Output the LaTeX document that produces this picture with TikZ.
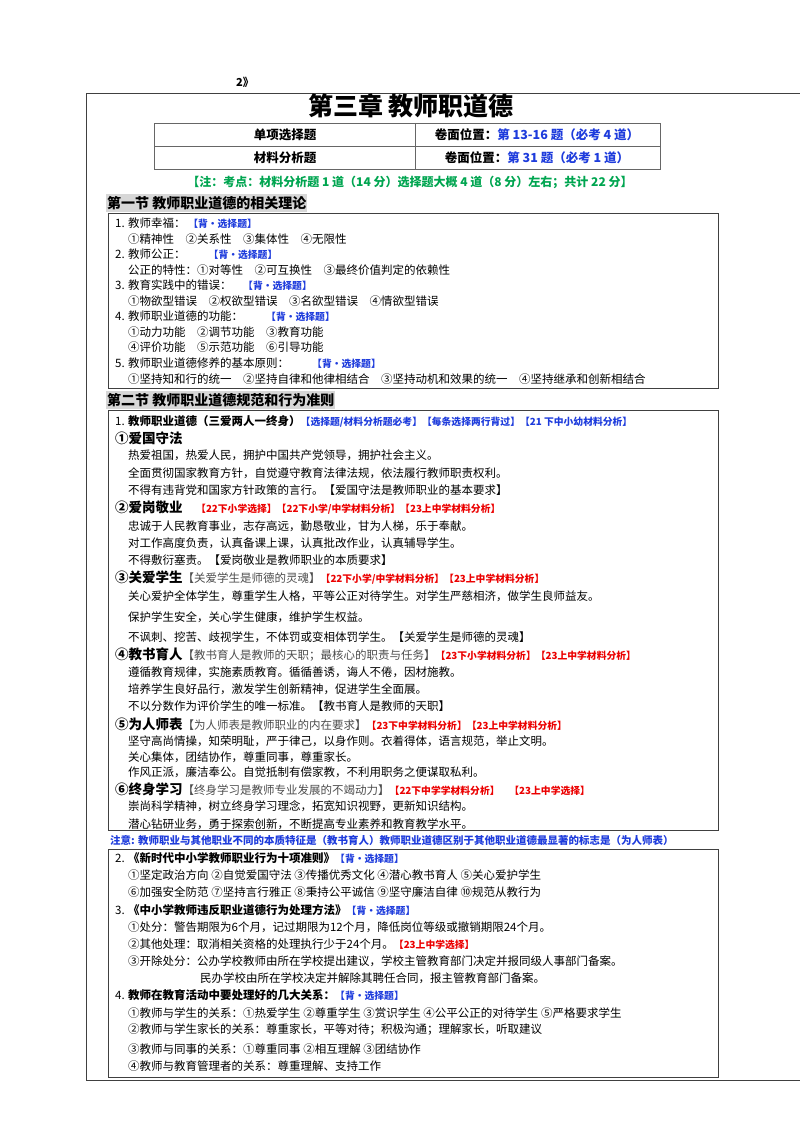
\documentclass[tikz,border=0pt]{standalone}
\usepackage{fontspec}
\setmainfont{Noto Sans CJK SC}
\usepackage{xcolor}
\usetikzlibrary{positioning}
\definecolor{tagblue}{RGB}{30,60,220}
\definecolor{tagred}{RGB}{235,0,0}
\definecolor{notegreen}{RGB}{0,165,80}
\definecolor{secgray}{RGB}{215,215,215}
\newcommand{\btag}[1]{{\fontsize{9.8}{10}\selectfont\bfseries\color{tagblue}#1}}
\newcommand{\rtag}[1]{{\fontsize{9.8}{10}\selectfont\bfseries\color{tagred}#1}}
\newcommand{\gtag}[1]{{\mdseries\fontsize{11.5}{12}\selectfont\color{black!70}#1}}

\begin{document}
\begin{tikzpicture}[x=1pt,y=-1pt,
    every node/.style={inner sep=0pt, anchor=west},
    ln/.style={font=\fontsize{11.5}{12}\selectfont},
    hd/.style={font=\fontsize{13.5}{14}\selectfont\bfseries},
    sec/.style={font=\fontsize{14}{15}\selectfont\bfseries, fill=secgray, inner xsep=1pt, inner ysep=2.5pt},
    tb/.style={anchor=center, font=\fontsize{12.5}{13}\selectfont\bfseries},
    box/.style={draw=black!75, line width=0.8pt},
    cell/.style={draw=black!60, line width=0.8pt}]
  \useasboundingbox (0,0) rectangle (800,1131);

  \node[font=\fontsize{11}{12}\selectfont\bfseries] (pg) at (236,82) {2》};
  % outer frame
  \draw[box] (86,1080) -- (86,93) -- (800,93);
  \draw[box] (86,1080) -- (800,1080);
  \node[font=\fontsize{25}{27}\selectfont\bfseries, anchor=center] (title) at (411,106) {第三章\ 教师职道德};

  % table
  \draw[cell] (154,123) rectangle (660,169);
  \draw[cell] (154,146) -- (660,146) (415,123) -- (415,169);
  \node[tb] (q1) at (285,135) {单项选择题};
  \node[tb] (q2) at (285,158) {材料分析题};
  \node[tb] (p1) at (537,135) {卷面位置：\textcolor{tagblue}{第 13-16 题（必考 4 道）}};
  \node[tb] (p2) at (537,158) {卷面位置：\textcolor{tagblue}{第 31 题（必考 1 道）}};
  \node[anchor=center, font=\fontsize{12}{13}\selectfont\bfseries, text=notegreen] (note) at (410,182) {【注：考点：材料分析题 1 道（14 分）选择题大概 4 道（8 分）左右；共计 22 分】};

  % section one
  \node[sec] (s1) at (106,203) {第一节 教师职业道德的相关理论};
  \draw[box] (108,213) rectangle (718,388);
  \node[ln] (a1) at (115,223) {1. 教师幸福：\ \btag{【背•选择题】}};
  \node[ln] (a2) at (128,239) {①精神性\quad ②关系性\quad ③集体性\quad ④无限性};
  \node[ln] (a3) at (115,254) {2. 教师公正：\qquad\btag{【背•选择题】}};
  \node[ln] (a4) at (128,270) {公正的特性：①对等性\quad ②可互换性\quad ③最终价值判定的依赖性};
  \node[ln] (a5) at (115,285) {3. 教育实践中的错误：\quad\btag{【背•选择题】}};
  \node[ln] (a6) at (128,301) {①物欲型错误\quad ②权欲型错误\quad ③名欲型错误\quad ④情欲型错误};
  \node[ln] (a7) at (115,316) {4. 教师职业道德的功能：\qquad\btag{【背•选择题】}};
  \node[ln] (a8) at (128,332) {①动力功能\quad ②调节功能\quad ③教育功能};
  \node[ln] (a9) at (128,347) {④评价功能\quad ⑤示范功能\quad ⑥引导功能};
  \node[ln] (a10) at (115,363) {5. 教师职业道德修养的基本原则：\qquad\btag{【背•选择题】}};
  \node[ln] (a11) at (128,379) {①坚持知和行的统一\quad ②坚持自律和他律相结合\quad ③坚持动机和效果的统一\quad ④坚持继承和创新相结合};

  % section two
  \node[sec] (s2) at (106,400) {第二节 教师职业道德规范和行为准则};
  \draw[box] (108,410) rectangle (718,830);
  \node[ln] (b0) at (115,421) {1. \textbf{教师职业道德（三爱两人一终身）}\btag{【选择题/材料分析题必考】【每条选择两行背过】【21 下中小幼材料分析】}};
  \node[hd] (h1) at (115,438) {①爱国守法};
  \node[ln] (b1) at (128,455) {热爱祖国，热爱人民，拥护中国共产党领导，拥护社会主义。};
  \node[ln] (b2) at (128,473) {全面贯彻国家教育方针，自觉遵守教育法律法规，依法履行教师职责权利。};
  \node[ln] (b3) at (128,490) {不得有违背党和国家方针政策的言行。【爱国守法是教师职业的基本要求】};
  \node[hd] (h2) at (115,508) {②爱岗敬业\quad\rtag{【22下小学选择】【22下小学/中学材料分析】【23上中学材料分析】}};
  \node[ln] (b4) at (128,526) {忠诚于人民教育事业，志存高远，勤恳敬业，甘为人梯，乐于奉献。};
  \node[ln] (b5) at (128,543) {对工作高度负责，认真备课上课，认真批改作业，认真辅导学生。};
  \node[ln] (b6) at (128,560) {不得敷衍塞责。【爱岗敬业是教师职业的本质要求】};
  \node[hd] (h3) at (115,578) {③关爱学生\gtag{【关爱学生是师德的灵魂】}\rtag{【22下小学/中学材料分析】【23上中学材料分析】}};
  \node[ln] (b7) at (128,596) {关心爱护全体学生，尊重学生人格，平等公正对待学生。对学生严慈相济，做学生良师益友。};
  \node[ln] (b8) at (128,617) {保护学生安全，关心学生健康，维护学生权益。};
  \node[ln] (b9) at (128,637) {不讽刺、挖苦、歧视学生，不体罚或变相体罚学生。【关爱学生是师德的灵魂】};
  \node[hd] (h4) at (115,655) {④教书育人\gtag{【教书育人是教师的天职；最核心的职责与任务】}\rtag{【23下小学材料分析】【23上中学材料分析】}};
  \node[ln] (b10) at (128,672) {遵循教育规律，实施素质教育。循循善诱，诲人不倦，因材施教。};
  \node[ln] (b11) at (128,689) {培养学生良好品行，激发学生创新精神，促进学生全面展。};
  \node[ln] (b12) at (128,706) {不以分数作为评价学生的唯一标准。【教书育人是教师的天职】};
  \node[hd] (h5) at (115,724) {⑤为人师表\gtag{【为人师表是教师职业的内在要求】}\rtag{【23下中学材料分析】【23上中学材料分析】}};
  \node[ln] (b13) at (128,741) {坚守高尚情操，知荣明耻，严于律己，以身作则。衣着得体，语言规范，举止文明。};
  \node[ln] (b14) at (128,757) {关心集体，团结协作，尊重同事，尊重家长。};
  \node[ln] (b15) at (128,772) {作风正派，廉洁奉公。自觉抵制有偿家教，不利用职务之便谋取私利。};
  \node[hd] (h6) at (115,789) {⑥终身学习\gtag{【终身学习是教师专业发展的不竭动力】}\rtag{【22下中学学材料分析】\quad【23上中学选择】}};
  \node[ln] (b16) at (128,806) {崇尚科学精神，树立终身学习理念，拓宽知识视野，更新知识结构。};
  \node[ln] (b17) at (128,824) {潜心钻研业务，勇于探索创新，不断提高专业素养和教育教学水平。};
  \node[font=\fontsize{10.5}{11}\selectfont\bfseries, text=tagblue] (zy) at (110,840) {注意: 教师职业与其他职业不同的本质特征是（教书育人）教师职业道德区别于其他职业道德最显著的标志是（为人师表）};

  % box three
  \draw[box] (108,849) rectangle (718,1077);
  \node[ln] (c1) at (115,858) {2. \textbf{《新时代中小学教师职业行为十项准则》}\btag{【背•选择题】}};
  \node[ln] (c2) at (128,875) {①坚定政治方向 ②自觉爱国守法 ③传播优秀文化 ④潜心教书育人 ⑤关心爱护学生};
  \node[ln] (c3) at (128,892) {⑥加强安全防范 ⑦坚持言行雅正 ⑧秉持公平诚信 ⑨坚守廉洁自律 ⑩规范从教行为};
  \node[ln] (c4) at (115,910) {3. \textbf{《中小学教师违反职业道德行为处理方法》}\btag{【背•选择题】}};
  \node[ln] (c5) at (128,927) {①处分：警告期限为6个月，记过期限为12个月，降低岗位等级或撤销期限24个月。};
  \node[ln] (c6) at (128,944) {②其他处理：取消相关资格的处理执行少于24个月。\rtag{【23上中学选择】}};
  \node[ln] (c7) at (128,961) {③开除处分：公办学校教师由所在学校提出建议，学校主管教育部门决定并报同级人事部门备案。};
  \node[ln] (c8) at (200,978) {民办学校由所在学校决定并解除其聘任合同，报主管教育部门备案。};
  \node[ln] (c9) at (115,995) {4. \textbf{教师在教育活动中要处理好的几大关系：}\btag{【背•选择题】}};
  \node[ln] (c10) at (128,1013) {①教师与学生的关系：①热爱学生 ②尊重学生 ③赏识学生 ④公平公正的对待学生 ⑤严格要求学生};
  \node[ln] (c11) at (128,1030) {②教师与学生家长的关系：尊重家长，平等对待；积极沟通；理解家长，听取建议};
  \node[ln] (c12) at (128,1049) {③教师与同事的关系：①尊重同事 ②相互理解 ③团结协作};
  \node[ln] (c13) at (128,1066) {④教师与教育管理者的关系：尊重理解、支持工作};
\end{tikzpicture}
\end{document}
